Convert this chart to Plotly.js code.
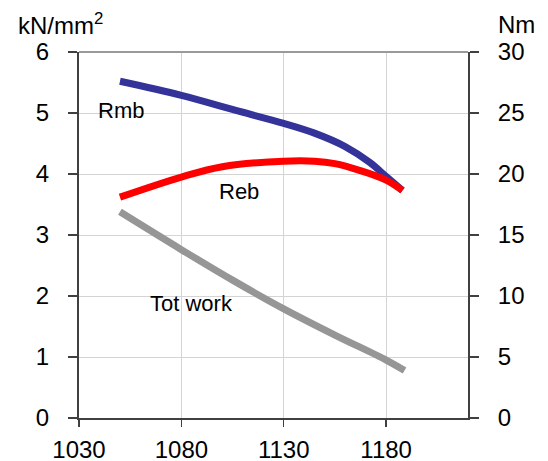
<!DOCTYPE html>
<html>
<head>
<meta charset="utf-8">
<script src="https://cdn.plot.ly/plotly-3.0.1.min.js"></script>
<style>html,body{margin:0;padding:0;background:#fff;}#chart{width:548px;height:461px;}</style>
</head>
<body>
<div id="chart"></div>
<script>
// Rmb (kN/mm², left axis)
const rmbX = [1050, 1080, 1108, 1130, 1145, 1160, 1172, 1180, 1188];
const rmbY = [5.52, 5.29, 5.03, 4.83, 4.67, 4.45, 4.19, 3.96, 3.73];
// Reb (kN/mm², left axis)
const rebX = [1050, 1080, 1100, 1130, 1145, 1155, 1167, 1180, 1188];
const rebY = [3.62, 3.95, 4.12, 4.21, 4.21, 4.17, 4.06, 3.90, 3.73];
// Tot work (Nm, right axis)
const workX = [1050, 1080, 1105, 1130, 1155, 1180, 1189];
const workY = [16.9, 13.8, 11.3, 8.95, 6.8, 4.75, 3.9];

const xTicks = [1030, 1080, 1130, 1180];
const seriesLabels = ["Rmb", "Reb", "Tot work"];
const leftTitle = "kN/mm<sup>2</sup>";
const rightTitle = "Nm";

const FONT = "Liberation Sans, Arial, sans-serif";
const axisCol = "#404040";
const gridCol = "#d4d4d4";

const traces = [
  {x: workX, y: workY, yaxis: "y2", mode: "lines", name: seriesLabels[2],
   line: {color: "#969696", width: 7, shape: "spline", smoothing: 1}},
  {x: rmbX, y: rmbY, mode: "lines", name: seriesLabels[0],
   line: {color: "#333399", width: 7, shape: "spline", smoothing: 1}},
  {x: rebX, y: rebY, mode: "lines", name: seriesLabels[1],
   line: {color: "#ff0000", width: 7, shape: "spline", smoothing: 1}}
];

const layout = {
  width: 548, height: 461,
  margin: {l: 79, r: 80, t: 52, b: 43},
  paper_bgcolor: "#fff", plot_bgcolor: "#fff",
  showlegend: false,
  font: {family: FONT, color: "#000", size: 24},
  xaxis: {
    range: [1030, 1220], tickvals: xTicks, ticktext: xTicks.map(String),
    showgrid: true, gridcolor: gridCol, gridwidth: 1,
    showline: true, linecolor: axisCol, linewidth: 2,
    ticks: "outside", ticklen: 7, tickcolor: axisCol, tickwidth: 1.5,
    zeroline: false, tickfont: {family: FONT, size: 24, color: "#000"},
    ticklabelstandoff: 2
  },
  yaxis: {
    range: [0, 6], dtick: 1, tick0: 0,
    showgrid: true, gridcolor: gridCol, gridwidth: 1,
    showline: true, linecolor: axisCol, linewidth: 2,
    ticks: "outside", ticklen: 9, tickcolor: axisCol, tickwidth: 1.5,
    zeroline: false, tickfont: {family: FONT, size: 24, color: "#000"},
    ticklabelstandoff: 14
  },
  yaxis2: {
    range: [0, 30], dtick: 5, tick0: 0, overlaying: "y", side: "right",
    showgrid: false,
    showline: true, linecolor: axisCol, linewidth: 2,
    ticks: "outside", ticklen: 9, tickcolor: axisCol, tickwidth: 1.5,
    zeroline: false, tickfont: {family: FONT, size: 24, color: "#000"},
    ticklabelstandoff: 14
  },
  shapes: [
    {type: "line", xref: "paper", yref: "paper", x0: 0, x1: 1, y0: 1, y1: 1,
     line: {color: "#9a9a9a", width: 2}}
  ],
  annotations: [
    {text: leftTitle, xref: "paper", yref: "paper", x: -0.162, y: 1.076,
     xanchor: "left", yanchor: "middle", showarrow: false,
     font: {family: FONT, size: 24, color: "#000"}},
    {text: rightTitle, xref: "paper", yref: "paper", x: 1.073, y: 1.076,
     xanchor: "left", yanchor: "middle", showarrow: false,
     font: {family: FONT, size: 24, color: "#000"}},
    {text: seriesLabels[0], x: 1050.5, y: 5.04, xref: "x", yref: "y",
     showarrow: false, font: {family: FONT, size: 22, color: "#000"}},
    {text: seriesLabels[1], x: 1108, y: 3.72, xref: "x", yref: "y",
     showarrow: false, font: {family: FONT, size: 22, color: "#000"}},
    {text: seriesLabels[2], x: 1085, y: 1.87, xref: "x", yref: "y",
     showarrow: false, font: {family: FONT, size: 22, color: "#000"}}
  ]
};

Plotly.newPlot("chart", traces, layout, {displayModeBar: false, staticPlot: true});
</script>
</body>
</html>
